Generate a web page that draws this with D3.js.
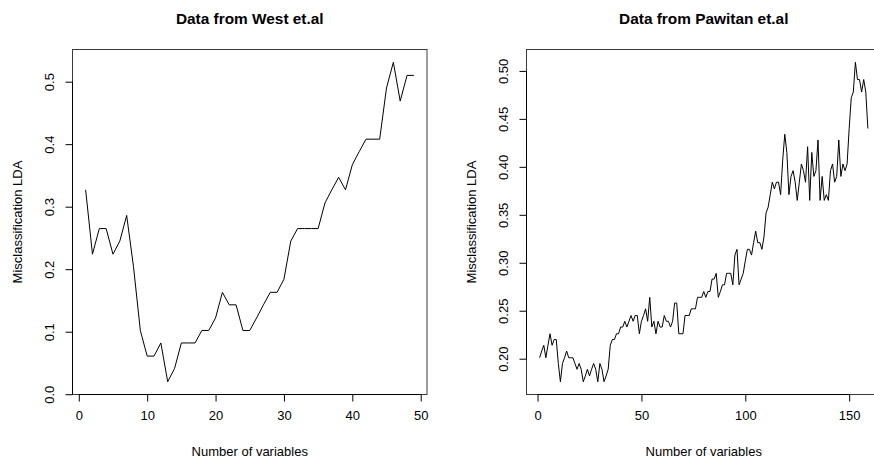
<!DOCTYPE html>
<html>
<head>
<meta charset="utf-8">
<script src="https://cdn.jsdelivr.net/npm/d3@7/dist/d3.min.js"></script>
<style>
  html, body { margin: 0; padding: 0; background: #fff; }
  svg { display: block; }
  text { font-family: "Liberation Sans", Arial, Helvetica, sans-serif; fill: #000; }
</style>
</head>
<body>
<svg id="chart" width="874" height="458"></svg>
<script>
// ---- Data ----
const westTitle = "Data from West et.al";
const westValues = [0.327,0.224,0.265,0.265,0.224,0.245,0.286,0.204,0.102,0.061,
  0.061,0.082,0.020,0.041,0.082,0.082,0.082,0.102,0.102,0.122,
  0.163,0.143,0.143,0.102,0.102,0.122,0.143,0.163,0.163,0.184,
  0.245,0.265,0.265,0.265,0.265,0.306,0.327,0.347,0.327,0.367,
  0.388,0.408,0.408,0.408,0.490,0.531,0.469,0.510,0.510];
const westXTicks = [0,10,20,30,40,50];
const westYTicks = [0.0,0.1,0.2,0.3,0.4,0.5];

const pawitanTitle = "Data from Pawitan et.al";
const pawitanValues = [0.201,0.208,0.214,0.201,0.214,0.226,0.214,0.220,0.220,0.195,
  0.176,0.195,0.201,0.208,0.201,0.201,0.201,0.195,0.189,0.195,
  0.189,0.176,0.182,0.189,0.182,0.189,0.195,0.189,0.176,0.195,
  0.189,0.176,0.182,0.189,0.214,0.220,0.220,0.226,0.226,0.233,
  0.233,0.239,0.233,0.239,0.245,0.239,0.245,0.245,0.226,0.239,
  0.245,0.252,0.239,0.264,0.233,0.239,0.226,0.239,0.233,0.233,
  0.245,0.239,0.239,0.233,0.239,0.258,0.258,0.226,0.226,0.226,
  0.245,0.245,0.245,0.252,0.252,0.252,0.264,0.264,0.264,0.270,
  0.264,0.270,0.270,0.283,0.283,0.289,0.264,0.270,0.277,0.277,
  0.289,0.289,0.289,0.277,0.308,0.314,0.277,0.283,0.289,0.302,
  0.314,0.314,0.308,0.321,0.333,0.321,0.321,0.314,0.327,0.352,
  0.358,0.371,0.384,0.377,0.384,0.384,0.371,0.407,0.434,0.415,
  0.371,0.390,0.396,0.384,0.365,0.384,0.403,0.396,0.384,0.421,
  0.365,0.415,0.390,0.396,0.428,0.365,0.390,0.365,0.371,0.365,
  0.396,0.403,0.384,0.390,0.428,0.390,0.403,0.396,0.403,0.440,
  0.472,0.478,0.509,0.491,0.491,0.478,0.491,0.478,0.440];
const pawitanXTicks = [0,50,100,150];
const pawitanYTicks = [0.20,0.25,0.30,0.35,0.40,0.45,0.50];

const xLabel = "Number of variables";
const yLabel = "Misclassification LDA";

// ---- Drawing ----
const svg = d3.select("#chart");

function padded(ext) {
  const d = (ext[1] - ext[0]) * 0.04;
  return [ext[0] - d, ext[1] + d];
}

function panel(cfg) {
  const { values, left, right, top, bottom, title, xTicks, yTicks, yFmt } = cfg;
  const data = values.map((v, i) => ({ x: i + 1, y: v }));
  const x = d3.scaleLinear().domain(padded(d3.extent(data, d => d.x))).range([left, right]);
  const y = d3.scaleLinear().domain(padded(d3.extent(data, d => d.y))).range([bottom, top]);
  const g = svg.append("g");

  // plot box
  g.append("rect")
    .attr("x", left).attr("y", top)
    .attr("width", right - left).attr("height", bottom - top)
    .attr("fill", "none").attr("stroke", "#3a3a3a").attr("stroke-width", 1);

  // line
  g.append("path")
    .datum(data)
    .attr("fill", "none").attr("stroke", "#000").attr("stroke-width", 1)
    .attr("stroke-linejoin", "round")
    .attr("d", d3.line().x(d => x(d.x)).y(d => y(d.y)));

  // x axis
  const xa = g.append("g").attr("transform", `translate(0,${bottom})`)
    .call(d3.axisBottom(x).tickValues(xTicks).tickSize(7).tickSizeOuter(0).tickPadding(9).tickFormat(d3.format("d")));
  xa.select(".domain").remove();
  xa.selectAll("text").style("font-size", "13px").attr("fill", "#000");
  xa.append("line").attr("x1", x(xTicks[0])).attr("x2", x(xTicks[xTicks.length - 1]))
    .attr("y1", 0).attr("y2", 0).attr("stroke", "#000");

  // y axis
  const ya = g.append("g").attr("transform", `translate(${left},0)`)
    .call(d3.axisLeft(y).tickValues(yTicks).tickSize(7).tickSizeOuter(0).tickFormat(d3.format(yFmt)));
  ya.select(".domain").remove();
  ya.selectAll(".tick text")
    .style("font-size", "13px").attr("fill", "#000")
    .attr("x", null).attr("dy", null)
    .attr("text-anchor", "middle")
    .attr("transform", "translate(-19,0) rotate(-90)");
  ya.append("line").attr("x1", 0).attr("x2", 0)
    .attr("y1", y(yTicks[0])).attr("y2", y(yTicks[yTicks.length - 1])).attr("stroke", "#000");

  const cx = (left + right) / 2;
  const cy = (top + bottom) / 2;
  g.append("text").attr("x", cx).attr("y", 24).attr("text-anchor", "middle")
    .style("font-size", "15.4px").style("font-weight", "bold").text(title);
  g.append("text").attr("x", cx).attr("y", 456).attr("text-anchor", "middle")
    .style("font-size", "13px").text(xLabel);
  g.append("text").attr("transform", `translate(${left - 50.5},${cy}) rotate(-90)`)
    .attr("text-anchor", "middle").style("font-size", "13px").text(yLabel);
}

panel({ values: westValues, left: 72.5, right: 427, top: 49.5, bottom: 394.5,
  title: westTitle, xTicks: westXTicks, yTicks: westYTicks, yFmt: ".1f" });
panel({ values: pawitanValues, left: 526.5, right: 881, top: 49.5, bottom: 394.5,
  title: pawitanTitle, xTicks: pawitanXTicks, yTicks: pawitanYTicks, yFmt: ".2f" });
</script>
</body>
</html>
